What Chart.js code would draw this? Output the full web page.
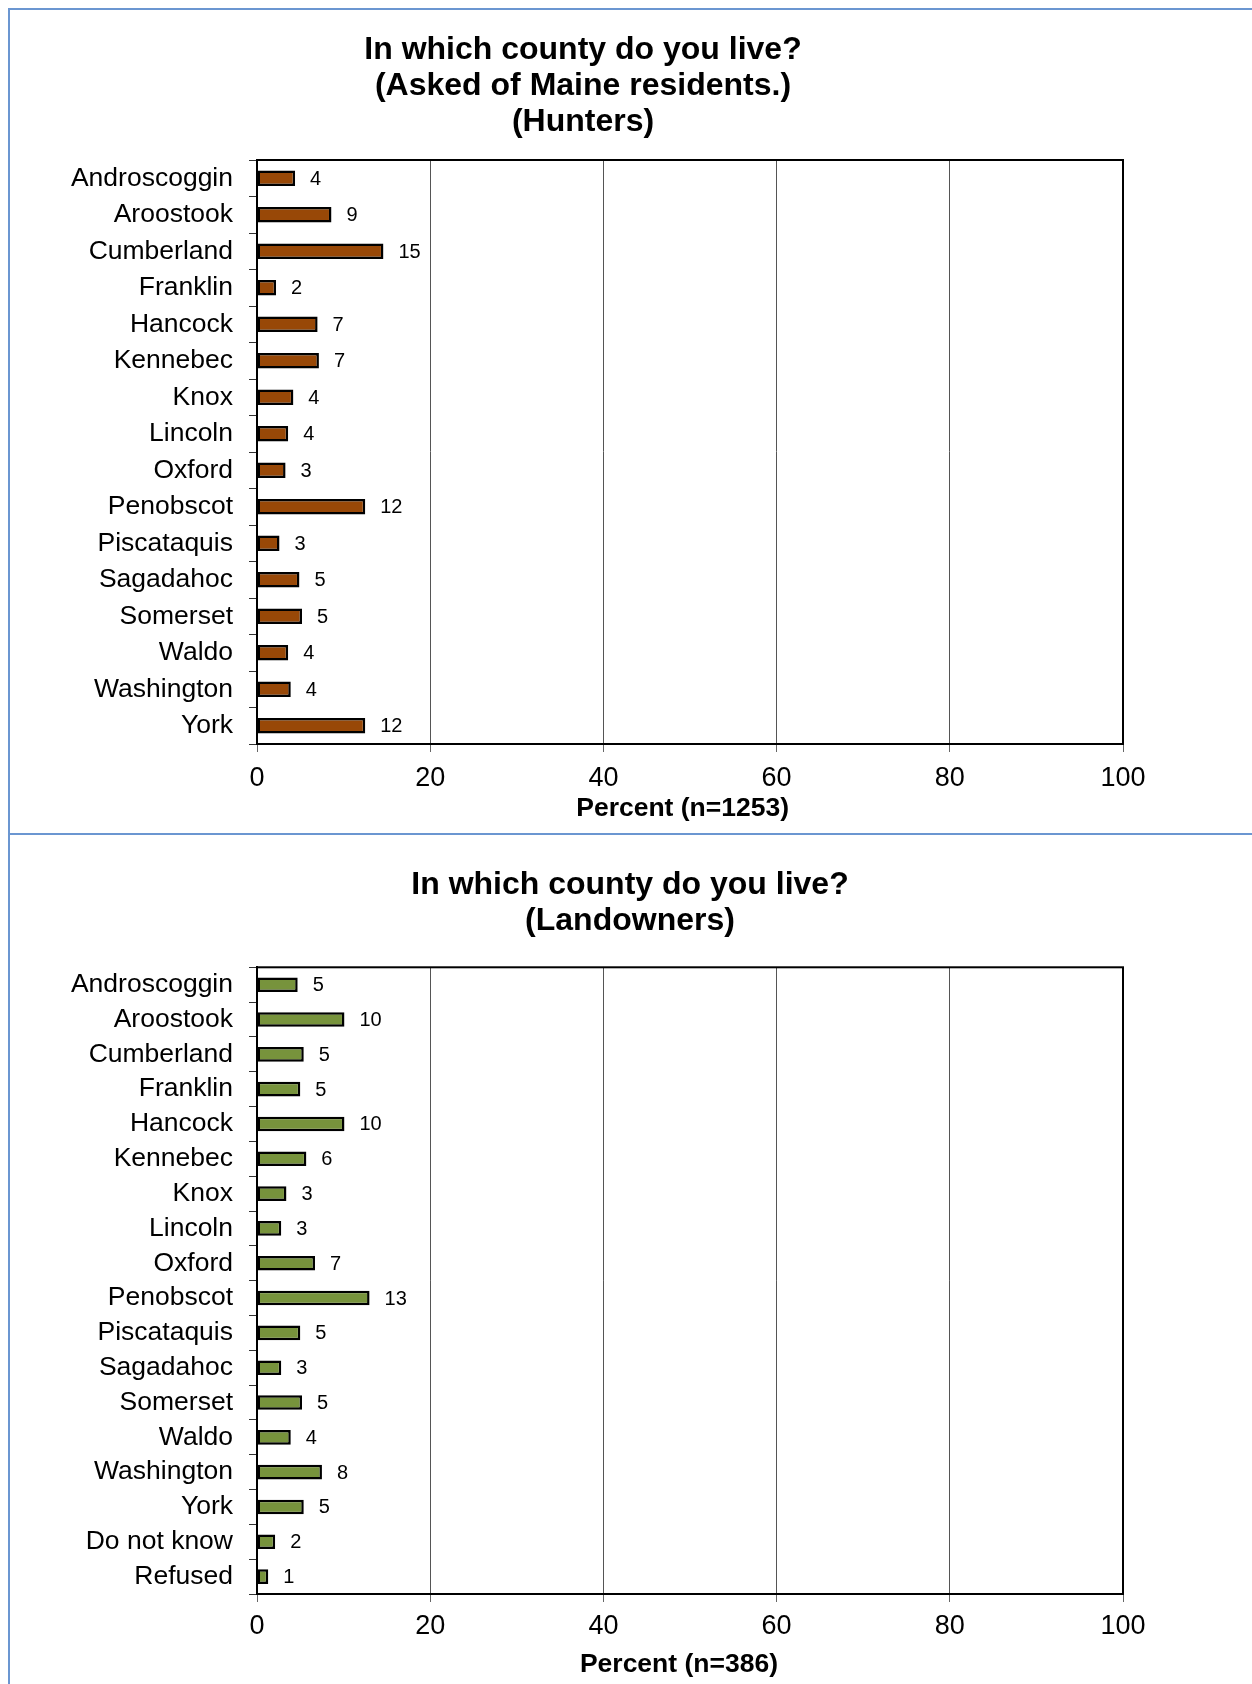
<!DOCTYPE html>
<html><head><meta charset="utf-8">
<script src="https://cdn.jsdelivr.net/npm/chart.js@4/dist/chart.umd.min.js"></script>
<style>
html,body{margin:0;padding:0;background:#fff;}
body{width:1252px;height:1684px;position:relative;overflow:hidden;}
canvas{position:absolute;left:0;}
#c1{top:0;}
#c2{top:834px;}
.bl{position:absolute;background:#6b96d1;}
</style></head><body>
<canvas id="c1" width="1252" height="834"></canvas>
<canvas id="c2" width="1252" height="850"></canvas>
<div class="bl" style="left:8px;top:8px;width:1244px;height:2px"></div>
<div class="bl" style="left:8px;top:8px;width:2px;height:1676px"></div>
<div class="bl" style="left:8px;top:833px;width:1244px;height:2px"></div>
<script>
// ---- data ----
const hunterCategories = ['Androscoggin','Aroostook','Cumberland','Franklin','Hancock','Kennebec','Knox','Lincoln','Oxford','Penobscot','Piscataquis','Sagadahoc','Somerset','Waldo','Washington','York'];
const hunterValues = [4.4, 8.6, 14.6, 2.2, 7.0, 7.15, 4.2, 3.6, 3.3, 12.5, 2.6, 4.9, 5.2, 3.6, 3.9, 12.5];
const hunterLabels = ['4','9','15','2','7','7','4','4','3','12','3','5','5','4','4','12'];

const landownerCategories = ['Androscoggin','Aroostook','Cumberland','Franklin','Hancock','Kennebec','Knox','Lincoln','Oxford','Penobscot','Piscataquis','Sagadahoc','Somerset','Waldo','Washington','York','Do not know','Refused'];
const landownerValues = [4.7, 10.1, 5.4, 5.0, 10.1, 5.7, 3.4, 2.8, 6.7, 13.0, 5.0, 2.8, 5.2, 3.9, 7.5, 5.4, 2.1, 1.3];
const landownerLabels = ['5','10','5','5','10','6','3','3','7','13','5','3','5','4','8','5','2','1'];

const xTickValues = [0, 20, 40, 60, 80, 100];

const FONT = "'Liberation Sans', Arial, sans-serif";
Chart.defaults.font.family = FONT;
Chart.defaults.color = '#000';

const frameAndLabels = {
  id: 'frameAndLabels',
  afterLayout(chart, args, opts) {
    const tb = chart.titleBlock;
    if (tb && opts.titleCenter) {
      const w = tb.right - tb.left;
      tb.left = opts.titleCenter - w / 2;
      tb.right = tb.left + w;
    }
  },
  afterDatasetsDraw(chart, args, opts) {
    const ctx = chart.ctx;
    const meta = chart.getDatasetMeta(0);
    ctx.save();
    ctx.font = '20px ' + FONT;
    ctx.fillStyle = '#000';
    ctx.textAlign = 'left';
    ctx.textBaseline = 'middle';
    meta.data.forEach((bar, i) => ctx.fillText(opts.labels[i], bar.x + 15, bar.y + 1));
    ctx.restore();
  },
  afterDraw(chart) {
    const ctx = chart.ctx;
    const {left, top, right, bottom} = chart.chartArea;
    ctx.save();
    ctx.strokeStyle = '#000';
    ctx.lineWidth = 2;
    ctx.strokeRect(left, top, right - left, bottom - top);
    ctx.restore();
  }
};

function makeChart(id, cats, vals, labels, color, cfg) {
  return new Chart(document.getElementById(id), {
    type: 'bar',
    data: {
      labels: cats,
      datasets: [{
        data: vals,
        backgroundColor: color,
        borderColor: '#000',
        borderWidth: 2.5,
        borderSkipped: false,
        categoryPercentage: 1,
        barPercentage: cfg.barPct
      }]
    },
    options: {
      indexAxis: 'y',
      responsive: false,
      animation: false,
      devicePixelRatio: 1,
      layout: { padding: { left: 20, right: 129, top: 0, bottom: 0 } },
      plugins: {
        legend: { display: false },
        tooltip: { enabled: false },
        title: {
          display: true,
          text: cfg.title,
          color: '#000',
          font: { size: 32, weight: 'bold', family: FONT, lineHeight: 1.125 },
          padding: { top: cfg.titleTop, bottom: cfg.titleBottom }
        },
        frameAndLabels: { labels: labels, titleCenter: cfg.titleCenter }
      },
      scales: {
        x: {
          type: 'linear',
          min: 0, max: 100,
          afterBuildTicks: (s) => { s.ticks = xTickValues.map(v => ({ value: v })); },
          afterFit: (s) => { s.height = 90; },
          ticks: { font: { size: 27 }, color: '#000', padding: cfg.tickPad, maxRotation: 0 },
          grid: { color: '#555', lineWidth: 1, drawTicks: true, tickLength: 8, tickColor: '#666' },
          border: { display: true, color: '#000', width: 2 },
          title: {
            display: true,
            text: cfg.axisTitle,
            color: '#000',
            font: { size: 26.5, weight: 'bold', family: FONT },
            padding: { top: 0, bottom: cfg.axisTitlePad }
          }
        },
        y: {
          type: 'category',
          afterFit: (s) => { s.width = 237; },
          ticks: { font: { size: 26.5 }, color: '#000', padding: 16, autoSkip: false },
          grid: { offset: true, drawOnChartArea: false, drawTicks: true, tickLength: 8, tickColor: '#333', lineWidth: 1 },
          border: { display: true, color: '#000', width: 2 }
        }
      }
    },
    plugins: [frameAndLabels]
  });
}

makeChart('c1', hunterCategories, hunterValues, hunterLabels, '#984807', {
  title: ['In which county do you live?', '(Asked of Maine residents.)', '(Hunters)'],
  axisTitle: 'Percent (n=1253)  ',
  titleCenter: 583,
  titleTop: 32.5, titleBottom: 19.5,
  barPct: 0.43, tickPad: 10, axisTitlePad: 9
});

makeChart('c2', landownerCategories, landownerValues, landownerLabels, '#77933C', {
  title: ['In which county do you live?', '(Landowners)'],
  axisTitle: 'Percent (n=386)   ',
  titleCenter: 630,
  titleTop: 33, titleBottom: 28.3,
  barPct: 0.42, tickPad: 8, axisTitlePad: 3
});
</script>
</body></html>
